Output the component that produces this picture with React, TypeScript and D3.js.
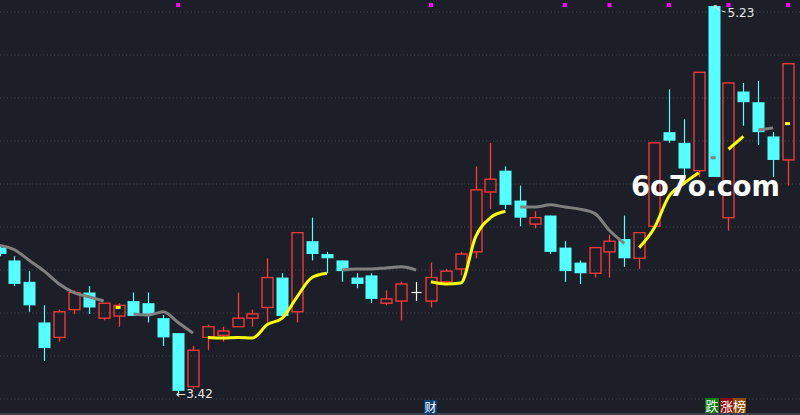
import * as d3 from "d3";

// candle data (price units), one entry per bar
const opens = [
  4.10, 4.04, 3.94, 3.75, 3.68, 3.81, 3.89, 3.77, 3.78, 3.85,
  3.84, 3.77, 3.70, 3.45, 3.68, 3.69, 3.73, 3.77, 3.82, 3.96,
  3.80, 4.13, 4.07, 4.04, 3.96, 3.97, 3.84, 3.85, 3.89, 3.85,
  3.94, 4.00, 4.08, 4.36, 4.46, 4.32, 4.21, 4.25, 4.10, 4.03,
  3.98, 4.08, 4.14, 4.05, 4.20, 4.64, 4.59, 4.46, 5.23, 4.24,
  4.83, 4.78, 4.62, 4.51,
];
const highs = [
  4.11, 4.06, 3.99, 3.83, 3.81, 3.90, 3.92, 3.84, 3.84, 3.89,
  3.89, 3.785, 3.70, 3.64, 3.74, 3.73, 3.89, 3.81, 4.05, 3.98,
  4.17, 4.24, 4.08, 4.04, 3.98, 3.98, 3.90, 3.94, 3.94, 4.03,
  4.00, 4.08, 4.48, 4.59, 4.48, 4.39, 4.27, 4.25, 4.13, 4.04,
  4.10, 4.16, 4.25, 4.17, 4.59, 4.84, 4.70, 4.92, 5.23, 4.87,
  4.87, 4.88, 4.64, 4.96,
];
const lows = [
  4.06, 3.92, 3.80, 3.57, 3.66, 3.79, 3.79, 3.76, 3.73, 3.78,
  3.75, 3.64, 3.42, 3.44, 3.62, 3.66, 3.73, 3.73, 3.75, 3.78,
  3.75, 4.04, 3.98, 3.94, 3.91, 3.84, 3.83, 3.76, 3.85, 3.82,
  3.94, 3.97, 4.05, 4.28, 4.28, 4.20, 4.19, 4.07, 3.94, 3.93,
  3.96, 3.96, 4.01, 4.00, 4.20, 4.59, 4.42, 4.43, 4.43, 4.18,
  4.67, 4.58, 4.43, 4.39,
];
const closes = [
  4.07, 3.93, 3.83, 3.63, 3.80, 3.89, 3.82, 3.84, 3.83, 3.78,
  3.79, 3.68, 3.43, 3.62, 3.73, 3.71, 3.77, 3.79, 3.96, 3.78,
  4.17, 4.07, 4.05, 3.99, 3.93, 3.86, 3.86, 3.93, 3.89, 3.96,
  3.99, 4.07, 4.37, 4.42, 4.30, 4.24, 4.24, 4.08, 3.99, 3.98,
  4.10, 4.13, 4.05, 4.17, 4.59, 4.60, 4.47, 4.92, 4.43, 4.87,
  4.78, 4.64, 4.51, 4.96,
];

// moving average and its state flag (1 = yellow)
const maValues = [
  4.11, 4.09, 4.04, 3.99, 3.93, 3.89, 3.87, 3.85, 3.82, 3.79,
  3.785, 3.80, 3.75, 3.70, 3.68, 3.677, 3.68, 3.677, 3.74, 3.77,
  3.87, 3.96, 3.98, 3.995, 4.00, 4.00, 4.005, 4.01, 3.995, 3.94,
  3.93, 3.934, 4.15, 4.24, 4.27, 4.29, 4.29, 4.30, 4.29, 4.28,
  4.26, 4.18, 4.12, 4.10, 4.19, 4.34, 4.40, 4.45, 4.52, 4.56,
  4.62, 4.65, 4.66, 4.68,
];
const maUp = [
  0, 0, 0, 0, 0, 0, 0, 0, 1, 0,
  0, 0, 0, 0, 1, 1, 1, 1, 1, 1,
  1, 1, 1, 0, 0, 0, 0, 0, 0, 1,
  1, 1, 1, 1, 1, 0, 0, 0, 0, 0,
  0, 0, 0, 1, 1, 1, 1, 1, 0, 1,
  1, 0, 0, 1,
];

const markerBars = [12, 29, 38, 41, 45, 49, 53];
const lowLabel = { bar: 12, text: "3.42" };
const highLabel = { bar: 48, text: "5.23" };

const W = 800;
const H = 415;
const BG = "#1c1f27";
const RED = "#ff3a3a";
const CYAN = "#54ffff";

export default function App() {
  const n = opens.length;
  const x = d3.scaleLinear().domain([0, n - 1]).range([-0.4, 788]);
  const y = d3.scaleLinear().domain([3.42, 5.23]).range([393, 6]);
  const gridY = d3.scaleLinear().domain([0, 9]).range([12, 399]);
  const bw = 11;

  // split MA into runs of the same colour
  const runs: { up: number; idx: number[] }[] = [];
  maUp.forEach((u, i) => {
    const last = runs[runs.length - 1];
    if (last && last.up === u) last.idx.push(i);
    else runs.push({ up: u, idx: [i] });
  });
  const line = d3
    .line<number>()
    .x((i) => x(i))
    .y((i) => y(maValues[i]))
    .curve(d3.curveMonotoneX);

  return (
    <svg
      width={W}
      height={H}
      style={{ position: "absolute", left: 0, top: 0, background: BG }}
      fontFamily="'DejaVu Sans', sans-serif"
    >
      <rect width={W} height={H} fill={BG} />
      {d3.range(10).map((g) => (
        <line
          key={g}
          x1={0}
          x2={W}
          y1={gridY(g)}
          y2={gridY(g)}
          stroke="#4a4e58"
          strokeDasharray="1 2.6"
        />
      ))}
      <line x1={0} x2={W} y1={414} y2={414} stroke="#3c404a" strokeWidth={2} />

      {opens.map((o, i) => {
        const c = closes[i];
        const cx = Math.round(x(i)) + 0.5;
        const yH = y(highs[i]);
        const yL = y(lows[i]);
        if (Math.abs(o - c) < 0.001) {
          return (
            <g key={i} stroke="#ffffff" strokeWidth={1.2}>
              <line x1={cx} x2={cx} y1={yH} y2={yL} />
              <line x1={cx - 5} x2={cx + 5} y1={y(o)} y2={y(o)} />
            </g>
          );
        }
        if (c > o) {
          const top = y(c);
          const bot = y(o);
          return (
            <g key={i} stroke={RED} strokeWidth={1.3}>
              <line x1={cx} x2={cx} y1={yH} y2={top} />
              <line x1={cx} x2={cx} y1={bot} y2={yL} />
              <rect x={cx - bw / 2} y={top} width={bw} height={Math.max(1, bot - top)} fill="none" />
            </g>
          );
        }
        const top = y(o);
        const bot = y(c);
        return (
          <g key={i}>
            <line x1={cx} x2={cx} y1={yH} y2={yL} stroke={CYAN} strokeWidth={1.2} />
            <rect x={cx - bw / 2 - 0.5} y={top} width={bw + 1} height={Math.max(1.5, bot - top)} fill={CYAN} />
          </g>
        );
      })}

      {runs.map((r, k) => {
        const col = r.up ? "#ffff00" : "#808080";
        if (r.idx.length === 1) {
          const i = r.idx[0];
          return (
            <line
              key={k}
              x1={x(i) - 3}
              x2={x(i) + 2}
              y1={y(maValues[i])}
              y2={y(maValues[i])}
              stroke={col}
              strokeWidth={3}
            />
          );
        }
        return <path key={k} d={line(r.idx) || ""} fill="none" stroke={col} strokeWidth={3} />;
      })}

      {markerBars.map((b) => (
        <rect key={b} x={x(b) - 2} y={3} width={4} height={4} fill="#ff00ff" />
      ))}

      <text x={x(lowLabel.bar) - 2} y={y(lows[lowLabel.bar]) + 5} fill="#e8e8e8" fontSize={12}>
        {"←" + lowLabel.text}
      </text>
      <text x={x(highLabel.bar) - 1} y={11} fill="#e8e8e8" fontSize={10}>
        {"↖"}
      </text>
      <line x1={x(highLabel.bar) + 8} x2={x(highLabel.bar) + 12} y1={11} y2={12} stroke="#e8e8e8" />
      <text x={x(highLabel.bar) + 14} y={17} fill="#e8e8e8" fontSize={12}>
        {highLabel.text}
      </text>

      <text
        x={631}
        y={196}
        fill="#ffffff"
        fontSize={29}
        fontWeight="bold"
        textLength={149}
        lengthAdjust="spacingAndGlyphs"
      >
        6o7o.com
      </text>

      <rect x={424} y={400} width={13} height={14} fill="#0d3d7a" />
      <text x={430.5} y={411.5} fill="#fff" fontSize={12} textAnchor="middle" fontFamily="'Noto Sans CJK SC'">
        财
      </text>
      <rect x={705} y={398} width={14} height={15} fill="#0b7a0b" />
      <text x={712} y={410.5} fill="#fff" fontSize={13} textAnchor="middle" fontFamily="'Noto Sans CJK SC'">
        跌
      </text>
      <rect x={720} y={398} width={13} height={15} fill="#8a0a0a" />
      <text x={726.5} y={410.5} fill="#fff" fontSize={13} textAnchor="middle" fontFamily="'Noto Sans CJK SC'">
        涨
      </text>
      <rect x={733} y={398} width={13} height={15} fill="#8a4a00" />
      <text x={739.5} y={410.5} fill="#fff" fontSize={13} textAnchor="middle" fontFamily="'Noto Sans CJK SC'">
        榜
      </text>
    </svg>
  );
}
